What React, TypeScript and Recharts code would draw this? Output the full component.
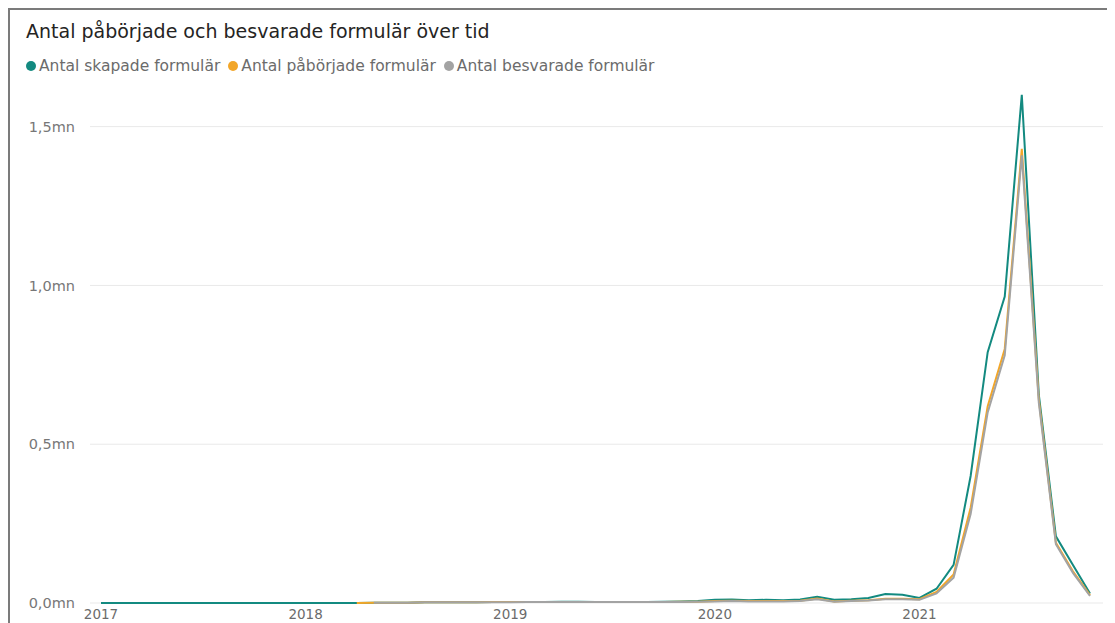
import { LineChart, Line, XAxis, YAxis, CartesianGrid } from "recharts";

// months Jan 2017 .. Nov 2021, index = month number
const MONTHS = [
  "2017-01", "2017-02", "2017-03", "2017-04", "2017-05", "2017-06", "2017-07", "2017-08", "2017-09", "2017-10", "2017-11", "2017-12",
  "2018-01", "2018-02", "2018-03", "2018-04", "2018-05", "2018-06", "2018-07", "2018-08", "2018-09", "2018-10", "2018-11", "2018-12",
  "2019-01", "2019-02", "2019-03", "2019-04", "2019-05", "2019-06", "2019-07", "2019-08", "2019-09", "2019-10", "2019-11", "2019-12",
  "2020-01", "2020-02", "2020-03", "2020-04", "2020-05", "2020-06", "2020-07", "2020-08", "2020-09", "2020-10", "2020-11", "2020-12",
  "2021-01", "2021-02", "2021-03", "2021-04", "2021-05", "2021-06", "2021-07", "2021-08", "2021-09", "2021-10", "2021-11",
];

// values in millions
const SKAPADE = [
  0, 0, 0, 0, 0, 0, 0, 0, 0, 0, 0, 0,
  0, 0, 0, 0, 0.001, 0.001, 0.001, 0.002, 0.002, 0.002, 0.002, 0.003,
  0.003, 0.003, 0.003, 0.004, 0.004, 0.003, 0.003, 0.003, 0.003, 0.004, 0.005, 0.006,
  0.01, 0.011, 0.009, 0.01, 0.009, 0.011, 0.02, 0.01, 0.012, 0.016, 0.028, 0.026,
  0.016, 0.045, 0.12, 0.4, 0.79, 0.965, 1.6, 0.655, 0.21, 0.12, 0.03,
];

const PABORJADE = [
  null, null, null, null, null, null, null, null, null, null, null, null,
  null, null, null, 0, 0.001, 0.001, 0.001, 0.002, 0.002, 0.002, 0.002, 0.003,
  0.003, 0.003, 0.003, 0.003, 0.003, 0.003, 0.003, 0.003, 0.003, 0.003, 0.004, 0.004,
  0.006, 0.007, 0.006, 0.006, 0.006, 0.007, 0.014, 0.005, 0.007, 0.009, 0.013, 0.013,
  0.012, 0.035, 0.09, 0.3, 0.62, 0.8, 1.43, 0.64, 0.19, 0.1, 0.025,
];

const BESVARADE = [
  null, null, null, null, null, null, null, null, null, null, null, null,
  null, null, null, null, 0.001, 0.001, 0.001, 0.002, 0.002, 0.002, 0.002, 0.002,
  0.002, 0.003, 0.003, 0.003, 0.003, 0.003, 0.003, 0.003, 0.003, 0.003, 0.003, 0.004,
  0.005, 0.006, 0.005, 0.005, 0.005, 0.006, 0.012, 0.004, 0.006, 0.008, 0.012, 0.012,
  0.01, 0.03, 0.08, 0.28, 0.6, 0.78, 1.41, 0.63, 0.185, 0.095, 0.022,
];

const YEAR_TICKS = [0, 12, 24, 36, 48];
const Y_TICKS = [0, 0.5, 1, 1.5];

const SERIES = [
  { key: "skapade", name: "Antal skapade formulär", color: "#138a80" },
  { key: "paborjade", name: "Antal påbörjade formulär", color: "#f2a629" },
  { key: "besvarade", name: "Antal besvarade formulär", color: "#a3a3a3" },
];

const data = MONTHS.map((m, i) => ({
  i,
  month: m,
  skapade: SKAPADE[i],
  paborjade: PABORJADE[i],
  besvarade: BESVARADE[i],
}));

const FONT = "'DejaVu Sans', sans-serif";

export default function App() {
  return (
    <div
      style={{
        position: "relative",
        width: 1107,
        height: 615,
        borderTop: "2px solid #7b7b7b",
        borderLeft: "2px solid #7b7b7b",
        fontFamily: FONT,
        overflow: "hidden",
      }}
    >
      <div
        style={{
          position: "absolute",
          left: 16,
          top: 10,
          fontSize: 19,
          color: "#252423",
          whiteSpace: "nowrap",
        }}
      >
        Antal påbörjade och besvarade formulär över tid
      </div>
      <div
        style={{
          position: "absolute",
          left: 16,
          top: 47,
          display: "flex",
          alignItems: "center",
          fontSize: 15.5,
          color: "#6b6b6b",
          whiteSpace: "nowrap",
        }}
      >
        {SERIES.map((s) => (
          <div key={s.key} style={{ display: "flex", alignItems: "center", marginRight: 8 }}>
            <span
              style={{
                display: "inline-block",
                width: 10,
                height: 10,
                borderRadius: "50%",
                background: s.color,
                marginRight: 3,
              }}
            />
            <span>{s.name}</span>
          </div>
        ))}
      </div>

      <div style={{ position: "absolute", left: 0, top: 0 }}>
        <LineChart
          width={1105}
          height={640}
          data={data}
          margin={{ top: 69, right: 12, left: 0, bottom: 17 }}
        >
          <CartesianGrid vertical={false} stroke="#e9e9e9" syncWithTicks />
          <XAxis
            dataKey="i"
            type="number"
            domain={[0, 58]}
            ticks={YEAR_TICKS}
            tickFormatter={(v) => MONTHS[v].slice(0, 4)}
            padding={{ left: 11, right: 13 }}
            axisLine={false}
            tickLine={false}
            tickMargin={0}
            height={30}
            tick={{ fill: "#6b6b6b", fontSize: 13.5, fontFamily: FONT }}
          />
          <YAxis
            domain={[0, 1.65]}
            ticks={Y_TICKS}
            width={80}
            axisLine={false}
            tickLine={false}
            tickMargin={9}
            tickFormatter={(v) => `${v.toFixed(1).replace(".", ",")}mn`}
            tick={{ fill: "#777777", fontSize: 14.5, fontFamily: FONT }}
          />
          {SERIES.map((s) => (
            <Line
              key={s.key}
              type="linear"
              dataKey={s.key}
              name={s.name}
              stroke={s.color}
              strokeWidth={2}
              dot={false}
              isAnimationActive={false}
            />
          ))}
        </LineChart>
      </div>
    </div>
  );
}
